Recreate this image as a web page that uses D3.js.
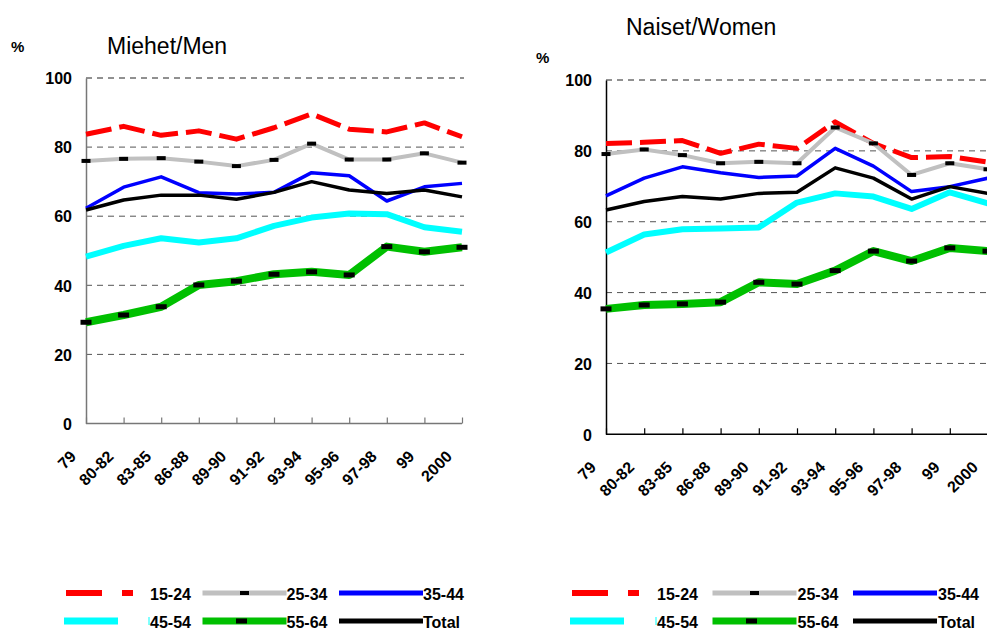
<!DOCTYPE html>
<html>
<head>
<meta charset="utf-8">
<script src="https://cdn.jsdelivr.net/npm/d3@7"></script>
<style>
body { margin: 0; background: #fff; }
svg { display: block; font-family: Arial, "Liberation Sans", sans-serif; }
</style>
</head>
<body>
<svg id="chart" width="987" height="632"></svg>
<script>
// categories (years)
var categories = ["79", "80-82", "83-85", "86-88", "89-90", "91-92", "93-94", "95-96", "97-98", "99", "2000"];
var yTicks = [0, 20, 40, 60, 80, 100];
var seriesNames = ["15-24", "25-34", "35-44", "45-54", "55-64", "Total"];

// Miehet/Men
var men1524 = [83.7, 86.0, 83.4, 84.7, 82.3, 85.6, 89.6, 85.2, 84.4, 87.0, 83.0];
var men2534 = [76.0, 76.6, 76.8, 75.8, 74.5, 76.3, 81.0, 76.4, 76.4, 78.2, 75.5];
var men3544 = [62.3, 68.4, 71.4, 66.8, 66.4, 66.9, 72.6, 71.7, 64.4, 68.5, 69.5];
var men4554 = [48.3, 51.4, 53.6, 52.4, 53.6, 57.2, 59.6, 60.8, 60.6, 56.8, 55.5];
var men5564 = [29.3, 31.4, 33.8, 40.1, 41.2, 43.2, 43.9, 43.0, 51.2, 49.7, 51.0];
var menTotal = [61.8, 64.7, 66.1, 66.1, 64.9, 66.9, 70.0, 67.6, 66.6, 67.6, 65.6];

// Naiset/Women
var women1524 = [82.1, 82.4, 82.9, 79.3, 81.9, 80.7, 88.2, 82.1, 78.1, 78.4, 76.8];
var women2534 = [79.1, 80.4, 78.8, 76.5, 76.9, 76.5, 86.6, 82.1, 73.2, 76.5, 74.8];
var women3544 = [67.3, 72.3, 75.5, 73.8, 72.5, 72.9, 80.7, 75.7, 68.5, 69.9, 72.3];
var women4554 = [51.3, 56.4, 57.9, 58.1, 58.4, 65.4, 68.0, 67.1, 63.6, 68.3, 65.2];
var women5564 = [35.4, 36.5, 36.8, 37.3, 42.9, 42.4, 46.2, 51.7, 48.9, 52.6, 51.7];
var womenTotal = [63.3, 65.7, 67.1, 66.4, 68.0, 68.3, 75.2, 72.3, 66.4, 69.9, 68.0];

// line styles per series
var styles = {
  "15-24": {color: "#ff0000", width: 5, dash: "26,8"},
  "25-34": {color: "#c0c0c0", width: 4, marker: [9, 4]},
  "35-44": {color: "#0000ff", width: 3.5},
  "45-54": {color: "#00ffff", width: 6},
  "55-64": {color: "#00c000", width: 8, marker: [11, 5]},
  "Total": {color: "#000000", width: 3.5}
};

var svg = d3.select("#chart");

function drawPanel(cfg) {
  var x = d3.scalePoint().domain(categories).range([cfg.x0, cfg.x1]);
  var y = d3.scaleLinear().domain([0, 100]).range([cfg.y0, cfg.y1]);
  var g = svg.append("g");

  // gridlines
  g.selectAll(".grid").data(yTicks.filter(function(d){ return d > 0; }))
    .enter().append("line")
    .attr("x1", cfg.x0).attr("x2", cfg.x1 + 2)
    .attr("y1", function(d){ return y(d); }).attr("y2", function(d){ return y(d); })
    .attr("stroke", function(d){ return d == 100 ? "#222" : "#555"; })
    .attr("stroke-width", 1)
    .attr("stroke-dasharray", "6,5");

  // y axis
  var ya = g.append("g").attr("transform", "translate(" + cfg.x0 + ",0)")
    .call(d3.axisLeft(y).tickValues(yTicks).tickSize(0).tickPadding(14));
  ya.select(".domain").attr("stroke", cfg.axisColor).attr("stroke-width", 1.5);
  ya.selectAll("text").attr("font-size", 16).attr("font-weight", "bold").attr("fill", "#000").attr("dy", "0.36em");

  // x axis
  var xa = g.append("g").attr("transform", "translate(0," + cfg.y0 + ")")
    .call(d3.axisTop(x).tickSize(6).tickFormat(""));
  xa.select(".domain").attr("stroke", cfg.axisColor).attr("stroke-width", 1.5).attr("d", "M" + cfg.x0 + ",0H" + cfg.x1);
  xa.selectAll(".tick line").attr("stroke", cfg.axisColor).attr("stroke-width", 1.2);

  g.selectAll(".xl").data(categories).enter().append("text")
    .attr("transform", function(d){ return "translate(" + (x(d) - 9) + "," + (cfg.y0 + 34) + ") rotate(-45)"; })
    .attr("text-anchor", "end")
    .attr("font-size", 16).attr("font-weight", "bold")
    .text(function(d){ return d; });

  // lines
  var line = d3.line().x(function(d, i){ return x(categories[i]); }).y(function(d){ return y(d); });
  seriesNames.forEach(function(name, k) {
    var vals = cfg.data[k];
    var st = styles[name];
    g.append("path").datum(vals)
      .attr("d", line)
      .attr("fill", "none")
      .attr("stroke", st.color)
      .attr("stroke-width", st.width)
      .attr("stroke-linejoin", "round")
      .attr("stroke-dasharray", st.dash || null);
    if (st.marker) {
      g.selectAll(".m" + k).data(vals).enter().append("rect")
        .attr("x", function(d, i){ return x(categories[i]) - st.marker[0] / 2; })
        .attr("y", function(d){ return y(d) - st.marker[1] / 2; })
        .attr("width", st.marker[0]).attr("height", st.marker[1])
        .attr("fill", "#000");
    }
  });

  // titles
  svg.append("text").attr("x", cfg.titleX).attr("y", cfg.titleY)
    .attr("font-size", 23).text(cfg.title);
  svg.append("text").attr("x", cfg.pctX).attr("y", cfg.pctY)
    .attr("font-size", 15).attr("font-weight", "bold").text("%");

  // legend
  var lg = svg.append("g");
  seriesNames.forEach(function(name, k) {
    var col = k % 3, row = Math.floor(k / 3);
    var st = styles[name];
    var lx = cfg.legX + col * cfg.legCol;
    var ly = row == 0 ? 593 : 621;
    var tx = cfg.legTextX + col * cfg.legCol;
    if (name == "15-24") {
      lg.append("line").attr("x1", lx).attr("x2", lx + 67).attr("y1", ly).attr("y2", ly)
        .attr("stroke", st.color).attr("stroke-width", 6).attr("stroke-dasharray", "36,20");
    } else if (name == "45-54") {
      lg.append("line").attr("x1", lx - 2).attr("x2", lx + 52).attr("y1", ly).attr("y2", ly)
        .attr("stroke", st.color).attr("stroke-width", 7);
      lg.append("line").attr("x1", tx - 1).attr("x2", tx - 1).attr("y1", ly - 4).attr("y2", ly + 4)
        .attr("stroke", st.color).attr("stroke-width", 1);
    } else {
      lg.append("line").attr("x1", lx).attr("x2", lx + 84).attr("y1", ly).attr("y2", ly)
        .attr("stroke", st.color).attr("stroke-width", st.width > 5 ? 7 : 5);
      if (st.marker) {
        lg.append("rect").attr("x", lx + 42 - st.marker[0] / 2 + (name == "55-64" ? -3 : 0))
          .attr("y", ly - st.marker[1] / 2).attr("width", st.marker[0]).attr("height", st.marker[1])
          .attr("fill", "#000");
      }
    }
    lg.append("text").attr("x", tx).attr("y", ly + 7)
      .attr("font-size", 16).attr("font-weight", "bold").text(name);
  });
}

drawPanel({
  x0: 86, x1: 462, y0: 423.5, y1: 78, axisColor: "#777",
  data: [men1524, men2534, men3544, men4554, men5564, menTotal],
  title: "Miehet/Men", titleX: 107, titleY: 54, pctX: 11, pctY: 52,
  legX: 66, legCol: 136.5, legTextX: 150
});

drawPanel({
  x0: 606, x1: 988, y0: 434.3, y1: 80, axisColor: "#000",
  data: [women1524, women2534, women3544, women4554, women5564, womenTotal],
  title: "Naiset/Women", titleX: 626, titleY: 35, pctX: 536, pctY: 63,
  legX: 572, legCol: 140.5, legTextX: 657
});
</script>
</body>
</html>
